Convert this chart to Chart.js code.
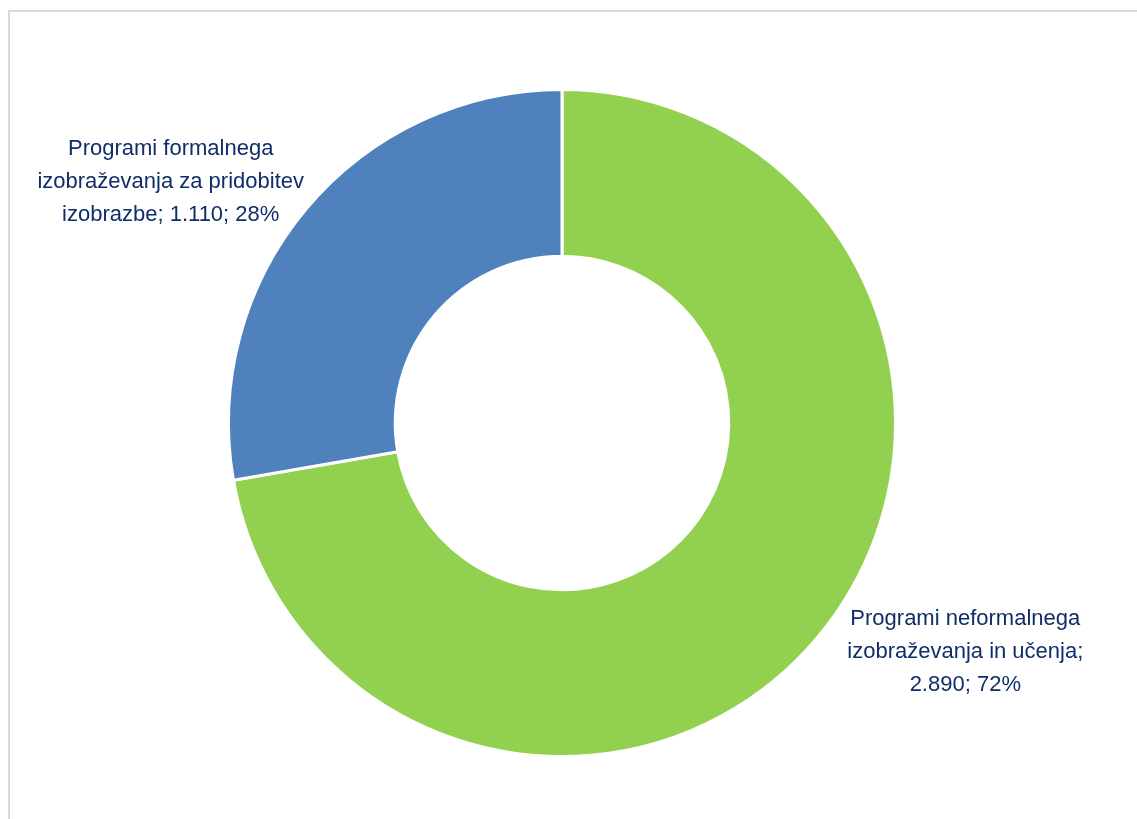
<!DOCTYPE html>
<html>
<head>
<meta charset="utf-8">
<script src="https://cdn.jsdelivr.net/npm/chart.js@4"></script>
<style>
  html, body { margin: 0; padding: 0; background: #fff; overflow: hidden; }
  #frame { position: absolute; left: 8px; top: 10px; width: 1200px; height: 900px;
           border-left: 2px solid #d9d9d9; border-top: 2px solid #d9d9d9; }
  #wrap { position: absolute; left: 0; top: 0; width: 1137px; height: 819px; }
</style>
</head>
<body>
<div id="frame"></div>
<div id="wrap"><canvas id="chart" width="1137" height="819"></canvas></div>
<script>
// data
const categories = [
    ['Programi neformalnega', 'izobraževanja in učenja;', '2.890; 72%'],
    ['Programi formalnega', 'izobraževanja za pridobitev', 'izobrazbe; 1.110; 28%']
];
const values = [2890, 1110];
const colours = ['#92d050', '#4f81bd'];

// where each label block sits relative to the outer edge at the slice middle
const labelOffsets = [[148, 14], [-136, -26]];

const outsideLabels = {
    id: 'outsideLabels',
    afterDatasetsDraw(chart) {
        const ctx = chart.ctx;
        const meta = chart.getDatasetMeta(0);
        ctx.save();
        ctx.font = '22px "Liberation Sans", Arial, sans-serif';
        ctx.fillStyle = '#112d68';
        ctx.textAlign = 'center';
        ctx.textBaseline = 'middle';
        meta.data.forEach((arc, i) => {
            const p = arc.getProps(['x', 'y', 'startAngle', 'endAngle', 'outerRadius'], true);
            const mid = (p.startAngle + p.endAngle) / 2;
            const cx = p.x + Math.cos(mid) * p.outerRadius + labelOffsets[i][0];
            const cy = p.y + Math.sin(mid) * p.outerRadius + labelOffsets[i][1];
            const lines = categories[i];
            const lh = 33;
            lines.forEach((t, k) => {
                ctx.fillText(t, cx, cy + (k - (lines.length - 1) / 2) * lh);
            });
        });
        ctx.restore();
    }
};

new Chart(document.getElementById('chart').getContext('2d'), {
    type: 'doughnut',
    data: {
        labels: categories.map(c => c.join(' ')),
        datasets: [{
            data: values,
            backgroundColor: colours,
            borderColor: '#ffffff',
            borderWidth: 3
        }]
    },
    options: {
        responsive: false,
        animation: false,
        cutout: '50%',
        layout: { padding: { left: 227, right: 240, top: 88, bottom: 61 } },
        plugins: {
            legend: { display: false },
            tooltip: { enabled: false }
        }
    },
    plugins: [outsideLabels]
});
</script>
</body>
</html>
